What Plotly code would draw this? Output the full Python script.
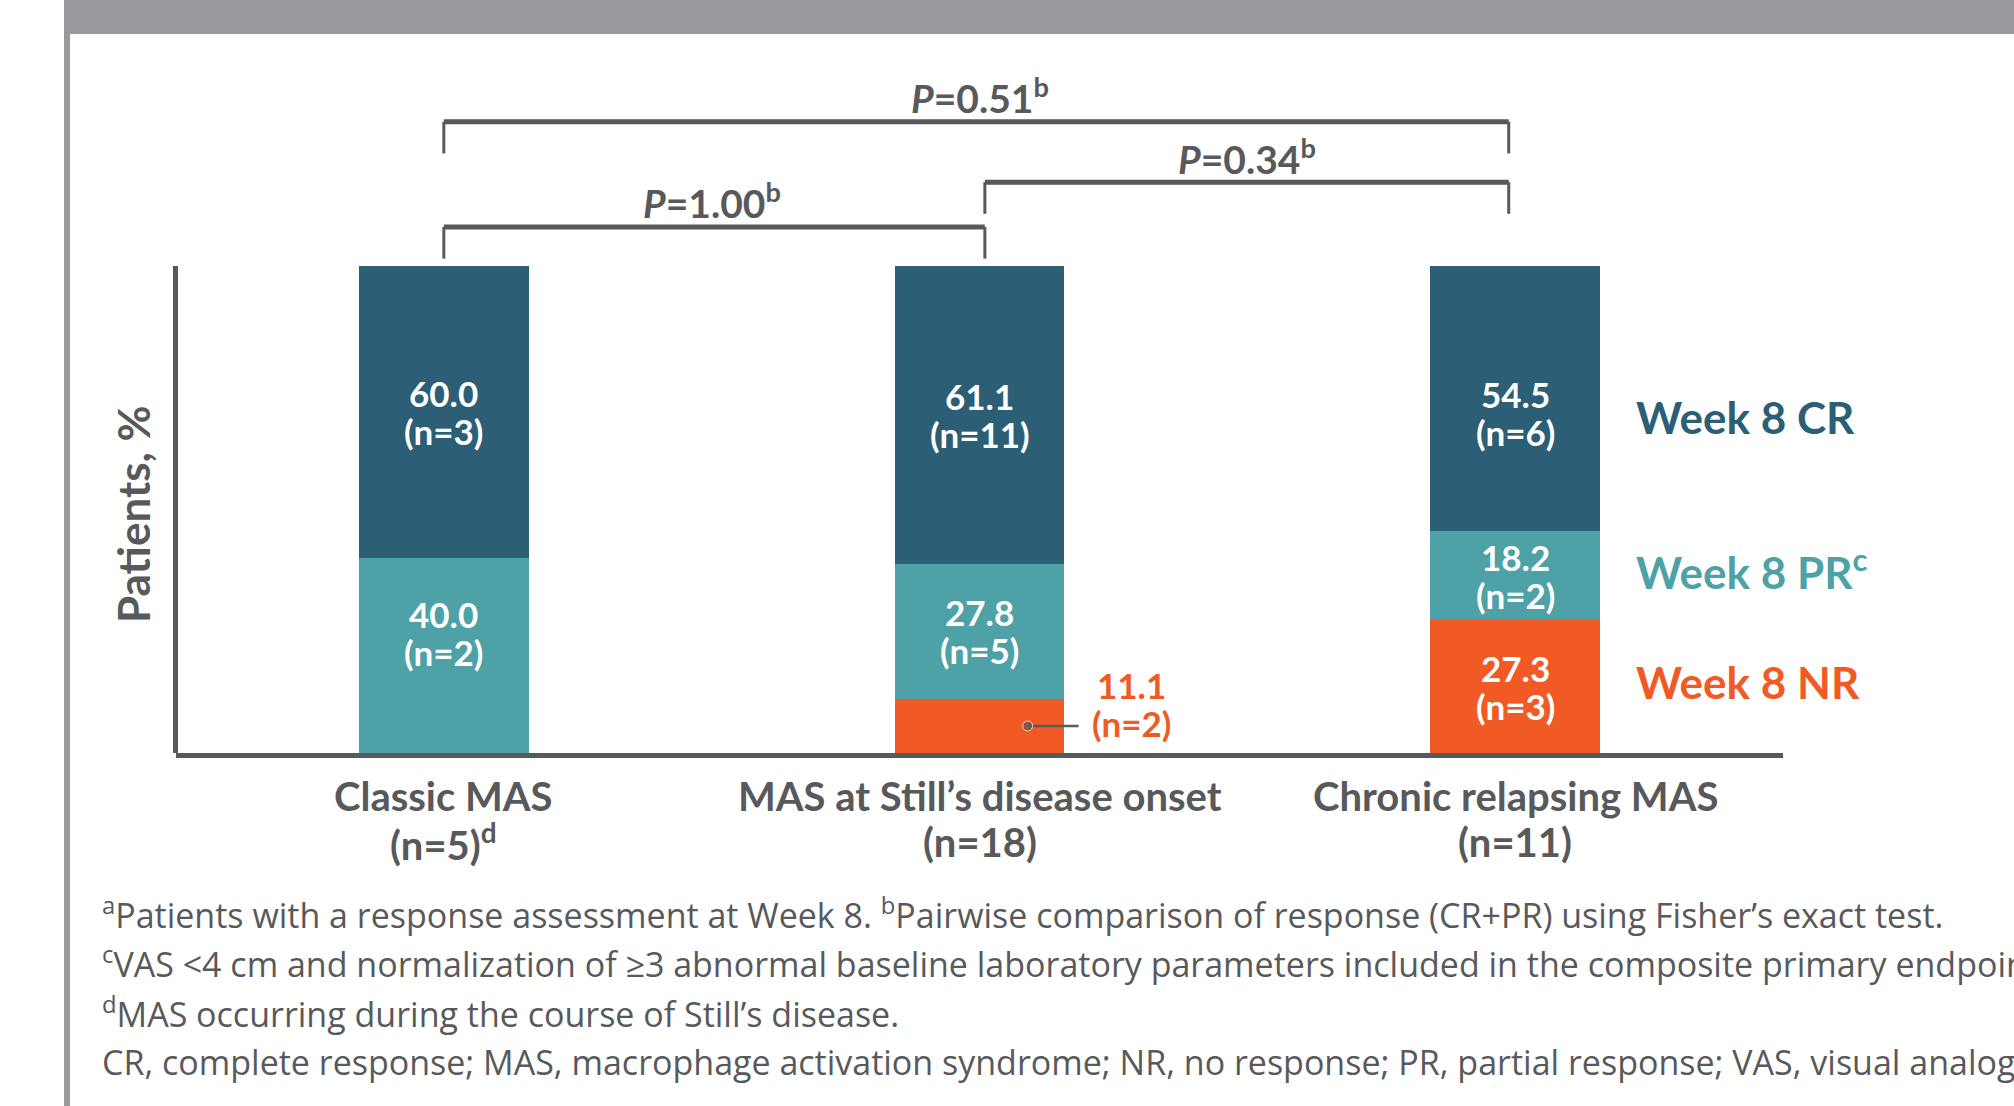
import plotly.graph_objects as go

# ---------------- data ----------------
categories = ["Classic MAS", "MAS at Still’s disease onset", "Chronic relapsing MAS"]
category_n = ["(n=5)<sup>d</sup>", "(n=18)", "(n=11)"]
series_names = ["Week 8 NR", "Week 8 PR<sup>c</sup>", "Week 8 CR"]
nr_pct = [0.0, 11.1, 27.3]
nr_n = [0, 2, 3]
pr_pct = [40.0, 27.8, 18.2]
pr_n = [2, 5, 2]
cr_pct = [60.0, 61.1, 54.5]
cr_n = [3, 11, 6]
p_values = ["1.00", "0.34", "0.51"]
p_pairs = [(0, 1), (1, 2), (0, 2)]
footnotes = [
    "<sup>a</sup>Patients with a response assessment at Week 8. <sup>b</sup>Pairwise comparison of response (CR+PR) using Fisher’s exact test.",
    "<sup>c</sup>VAS <4 cm and normalization of ≥3 abnormal baseline laboratory parameters included in the composite primary endpoint.",
    "<sup>d</sup>MAS occurring during the course of Still’s disease.",
    "CR, complete response; MAS, macrophage activation syndrome; NR, no response; PR, partial response; VAS, visual analog scale.",
]

# ---------------- style ----------------
W, H = 2014, 1106
FONT = "Lato"
FONT_NOTE = "Open Sans"
GRAY = "#58595b"
C_CR = "#2c5e76"
C_PR = "#4ea2a7"
C_NR = "#f15a24"
colors = [C_NR, C_PR, C_CR]
BAR_W = 0.317
Y_MAX = 154.6  # y range so that 100% sits below the p-value brackets


def px(x):
    return x / W


def py(y):
    return 1 - y / H


x_idx = list(range(len(categories)))
series_pct = [nr_pct, pr_pct, cr_pct]
series_n = [nr_n, pr_n, cr_n]

fig = go.Figure()
for name, vals, col in zip(series_names, series_pct, colors):
    fig.add_trace(go.Bar(x=x_idx, y=vals, name=name, marker=dict(color=col, line=dict(width=0)),
                         width=BAR_W, showlegend=False, hoverinfo="skip"))

annotations = []
shapes = []

# ---- in-bar value labels ----
label_shift = {(1, 0): 23, (2, 2): -14}  # (series, category) -> extra px shift
LS = 19
for s, (vals, ns) in enumerate(zip(series_pct, series_n)):
    for c in x_idx:
        v = vals[c]
        if v <= 0:
            continue
        if s == 0 and c == 1:
            continue  # small segment labelled outside
        base = sum(series_pct[k][c] for k in range(s))
        mid = base + v / 2
        extra = label_shift.get((s, c), 0)
        annotations.append(dict(x=c, y=mid, xref="x", yref="y", text=f"<b>{v:.1f}</b>",
                                showarrow=False, yshift=LS + extra, yanchor="middle",
                                font=dict(family=FONT, size=35, color="white")))
        annotations.append(dict(x=c, y=mid, xref="x", yref="y", text=f"<b>(n={ns[c]})</b>",
                                showarrow=False, yshift=-LS + extra, yanchor="middle",
                                font=dict(family=FONT, size=35, color="white")))

# ---- outside label for small NR segment ----
mid_small = nr_pct[1] / 2
fig.add_trace(go.Scatter(x=[1 + 0.09, 1 + 0.185], y=[mid_small, mid_small], mode="lines+markers",
                         line=dict(color=GRAY, width=2.5), marker=dict(size=[10, 0], color=GRAY),
                         showlegend=False, hoverinfo="skip"))
annotations.append(dict(x=1.283, y=mid_small, xref="x", yref="y", text=f"<b>{nr_pct[1]:.1f}</b>",
                        showarrow=False, yshift=41, yanchor="middle",
                        font=dict(family=FONT, size=35, color=C_NR)))
annotations.append(dict(x=1.283, y=mid_small, xref="x", yref="y", text=f"<b>(n={nr_n[1]})</b>",
                        showarrow=False, yshift=3, yanchor="middle",
                        font=dict(family=FONT, size=35, color=C_NR)))

# ---- series labels (right of last bar) ----
legend_shift = [5, 6, -18]
last = len(categories) - 1
for s, (name, col) in enumerate(zip(series_names, colors)):
    base = sum(series_pct[k][last] for k in range(s))
    mid = base + series_pct[s][last] / 2
    annotations.append(dict(x=2.222, y=mid, xref="x", yref="y", text=f"<b>{name}</b>",
                            xanchor="left", yanchor="middle", showarrow=False,
                            yshift=legend_shift[s], font=dict(family=FONT, size=44, color=col)))

# ---- category labels ----
for c, (cat, n) in enumerate(zip(categories, category_n)):
    annotations.append(dict(x=c, y=py(796), xref="x", yref="paper", text=f"<b>{cat}</b>",
                            showarrow=False, xanchor="center", yanchor="middle",
                            font=dict(family=FONT, size=40, color=GRAY)))
    annotations.append(dict(x=c, y=py(842), xref="x", yref="paper", text=f"<b>{n}</b>",
                            showarrow=False, xanchor="center", yanchor="middle",
                            font=dict(family=FONT, size=40, color=GRAY)))

# ---- y-axis title ----
annotations.append(dict(x=px(133), y=py(514), xref="paper", yref="paper", text="<b>Patients, %</b>",
                        textangle=-90, showarrow=False, xanchor="center", yanchor="middle",
                        font=dict(family=FONT, size=44, color=GRAY)))

# ---- p-value brackets ----
end_nudge = {0: 0.0, 1: 0.01, 2: -0.012}
bracket_top = [108.0, 117.2, 129.6]
LEG = 6.5
for (a, b), p, top in zip(p_pairs, p_values, bracket_top):
    xa, xb = a + end_nudge[a], b + end_nudge[b]
    shapes.append(dict(type="line", xref="x", yref="y", x0=xa, x1=xb, y0=top, y1=top,
                       line=dict(color=GRAY, width=5)))
    for xx in (xa, xb):
        shapes.append(dict(type="line", xref="x", yref="y", x0=xx, x1=xx, y0=top, y1=top - LEG,
                           line=dict(color=GRAY, width=3)))
    annotations.append(dict(x=(a + b) / 2, y=top, xref="x", yref="y",
                            text=f"<b><i>P</i>={p}<sup>b</sup></b>", showarrow=False, yshift=26,
                            xanchor="center", yanchor="middle",
                            font=dict(family=FONT, size=39, color=GRAY)))

# ---- footnotes ----
for i, t in enumerate(footnotes):
    annotations.append(dict(x=px(100), y=py(913 + 49.5 * i), xref="paper", yref="paper", text=t,
                            xanchor="left", yanchor="middle", showarrow=False,
                            font=dict(family=FONT_NOTE, size=34, color=GRAY)))

# ---- y axis line, frame band ----
shapes.append(dict(type="line", xref="paper", yref="y", x0=px(175.5), x1=px(175.5), y0=0, y1=100,
                   line=dict(color=GRAY, width=5)))
shapes.append(dict(type="rect", xref="paper", yref="paper", x0=px(64), x1=1, y0=py(34), y1=1,
                   fillcolor="#98999d", line=dict(width=0), layer="above"))
shapes.append(dict(type="line", xref="paper", yref="paper", x0=px(67), x1=px(67), y0=0, y1=1,
                   line=dict(color="#98999d", width=6), layer="above"))

fig.update_layout(
    width=W, height=H, margin=dict(l=0, r=0, t=0, b=0),
    paper_bgcolor="white", plot_bgcolor="rgba(0,0,0,0)",
    barmode="stack", bargap=0,
    xaxis=dict(range=[-0.5, 2.5], domain=[px(176), px(1783)], showline=True, linewidth=5,
               linecolor=GRAY, showticklabels=False, ticks="", showgrid=False, zeroline=False,
               fixedrange=True),
    yaxis=dict(range=[0, Y_MAX], domain=[py(753), 1], showline=False, showticklabels=False,
               ticks="", showgrid=False, zeroline=False, fixedrange=True),
    annotations=annotations, shapes=shapes,
    font=dict(family=FONT, color=GRAY),
)

fig.write_html("out.html", config={"displayModeBar": False},
               post_script="document.body.style.margin='0px';document.body.style.overflow='hidden';")
